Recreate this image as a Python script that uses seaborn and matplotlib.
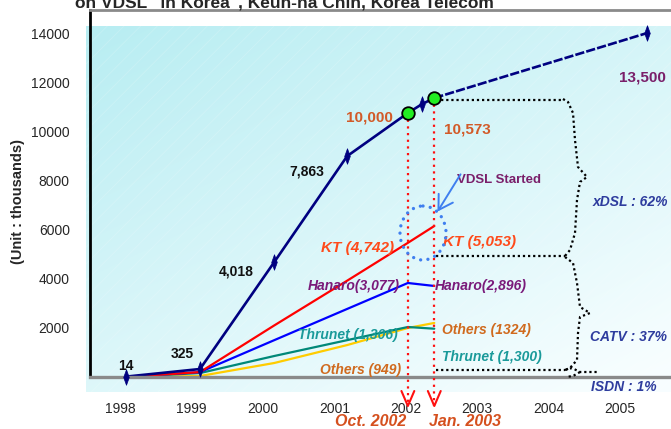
import numpy as np
import pandas as pd
import matplotlib
matplotlib.use("Agg")
import matplotlib.pyplot as plt
from matplotlib.path import Path
from matplotlib.markers import MarkerStyle
from matplotlib.patches import Ellipse, FancyArrowPatch, Rectangle
from matplotlib.transforms import Affine2D
import seaborn as sns

# ---------------- data (values as drawn in the picture) ----------------
periods_total = ["1998", "1999", "2000", "2001", "Oct. 2002", "Nov. 2002", "Jan. 2003", "2005"]
total_subs = [14, 325, 4680, 8990, 10745, 11110, 11355, 14000]
total_labels = ["14", "325", "4,018", "7,863", "10,000", "", "10,573", "13,500"]
milestones = ["Oct. 2002", "Jan. 2003"]

periods_ops = ["1998", "1999", "2000", "2001", "Oct. 2002", "Jan. 2003"]
kt_subs = [0, 200, 2100, 3920, 5460, 6145]
hanaro_subs = [0, 200, 1500, 2770, 3826, 3705]
thrunet_subs = [0, 160, 855, 1500, 2035, 1965]
others_subs = [0, 40, 570, 1300, 1995, 2200]

operators = ["KT", "Hanaro", "Thrunet", "Others"]
op_labels_oct = ["KT (4,742)", "Hanaro(3,077)", "Thrunet (1,306)", "Others (949)"]
op_labels_jan = ["KT (5,053)", "Hanaro(2,896)", "Thrunet (1,300)", "Others (1324)"]
share_labels = ["xDSL : 62%", "CATV : 37%", "ISDN : 1%"]
milestone_labels = ["Oct. 2002", "Jan. 2003"]

year_ticks = [1998, 1999, 2000, 2001, 2002, 2003, 2004, 2005]
y_ticks = [2000, 4000, 6000, 8000, 10000, 12000, 14000]

title = 'on VDSL" in Korea", Keun-ha Chin, Korea Telecom'
y_title = "(Unit : thousands)"

# ---------------- layout ----------------
period_pos = {"1998": 1998.08, "1999": 1999.12, "2000": 2000.16, "2001": 2001.18,
              "Oct. 2002": 2002.03, "Nov. 2002": 2002.23, "Jan. 2003": 2002.40,
              "2005": 2005.38}

NAVY = "#000080"
op_colors = {"KT": "#FF0000", "Hanaro": "#0000FF", "Thrunet": "#008878", "Others": "#FFCC00"}
op_text_colors = {"KT": "#FF4A1A", "Hanaro": "#7A1A7A", "Thrunet": "#1A9A9A", "Others": "#D06A1E"}

sns.set_style("white")
plt.rcParams["font.family"] = ["Liberation Sans", "DejaVu Sans"]
plt.rcParams["hatch.linewidth"] = 0.6

W, H = 671, 429
fig = plt.figure(figsize=(W / 100, H / 100), dpi=100)
PX = Affine2D().scale(1 / W, -1 / H).translate(0, 1) + fig.transFigure

# background gradient panel
bg = fig.add_axes([86 / W, 1 - 392 / H, (W - 86) / W, (392 - 26) / H])
bg.axis("off")
u = np.linspace(0, 1, 300)[None, :]
v = np.linspace(0, 1, 200)[:, None]
t = np.clip(0.45 * u + 0.6 * v, 0, 1)
c0 = np.array([0.72, 0.93, 0.95])
c1 = np.array([0.97, 0.995, 1.0])
img = c0 + (c1 - c0) * t[..., None]
bg.imshow(img, aspect="auto", extent=[0, 1, 0, 1])
bg.set_xlim(0, 1)
bg.set_ylim(0, 1)
bg.add_patch(Rectangle((0, 0), 1, 1, transform=bg.transAxes, fill=False,
                       hatch="//", edgecolor=(1, 1, 1, 0.18), lw=0))

# main axes
ax = fig.add_axes([90 / W, 1 - 377 / H, (W - 90) / W, (377 - 10) / H])
ax.set_facecolor("none")

ops_df = pd.DataFrame({
    "period": periods_ops * 4,
    "operator": np.repeat(operators, len(periods_ops)),
    "subs": kt_subs + hanaro_subs + thrunet_subs + others_subs,
})
ops_df["pos"] = ops_df["period"].map(period_pos)

tot_df = pd.DataFrame({"period": periods_total, "subs": total_subs, "label": total_labels})
tot_df["pos"] = tot_df["period"].map(period_pos)

sns.lineplot(data=ops_df, x="pos", y="subs", hue="operator", palette=op_colors,
             hue_order=["Others", "Thrunet", "Hanaro", "KT"],
             lw=1.6, legend=False, ax=ax, sort=False, estimator=None)

# total line (solid until Jan 2003, finely dashed forecast to 2005)
jan_i = periods_total.index("Jan. 2003")
sns.lineplot(data=tot_df.iloc[:jan_i + 1], x="pos", y="subs", color=NAVY, lw=1.9,
             ax=ax, sort=False, estimator=None)
sns.lineplot(data=tot_df.iloc[jan_i:], x="pos", y="subs", color=NAVY, lw=1.9,
             ax=ax, sort=False, estimator=None, linestyle=(0, (3.5, 0.8)))

# red dotted milestone lines with open V arrows
for m in milestones:
    r = tot_df[tot_df.period == m].iloc[0]
    ax.plot([r.pos, r.pos], [r.subs, -1180], color="#FF1010", lw=1.6,
            ls=(0, (1, 2)), clip_on=False, zorder=3)
    ax.plot([r.pos - 0.09, r.pos, r.pos + 0.09], [-570, -1180, -570],
            color="#FF1010", lw=1.5, clip_on=False, zorder=3)

diamond = MarkerStyle(Path([(0, 1), (0.36, 0), (0, -1), (-0.36, 0), (0, 1)],
                           [Path.MOVETO, Path.LINETO, Path.LINETO, Path.LINETO, Path.CLOSEPOLY]))
dia_df = tot_df[~tot_df.period.isin(milestones)]
sns.scatterplot(data=dia_df, x="pos", y="subs", marker=diamond, s=125, color=NAVY,
                edgecolor=NAVY, linewidth=0.5, ax=ax, zorder=6, legend=False)
mil_df = tot_df[tot_df.period.isin(milestones)]
sns.scatterplot(data=mil_df, x="pos", y="subs", s=82, color="#22EE22",
                edgecolor="black", linewidth=1.3, ax=ax, zorder=7, legend=False)

for art in ax.lines + ax.collections:
    art.set_clip_on(False)

ax.set_xlim(1998 + (90 - 120) / 71.43, 1998 + (671 - 120) / 71.43)
ax.set_ylim(0, 367 / 24.57 * 1000)
ax.set_xticks(year_ticks)
ax.set_xticklabels([str(y) for y in year_ticks])
ax.set_yticks(y_ticks)
ax.set_yticklabels([str(y) for y in y_ticks])
ax.tick_params(axis="x", length=0, pad=18, labelsize=10)
ax.tick_params(axis="y", length=0, pad=14.5, labelsize=10)
ax.set_xlabel("")
ax.set_ylabel("")
for s in ["left", "bottom", "top", "right"]:
    ax.spines[s].set_visible(True)
ax.spines["right"].set_visible(False)
ax.spines["left"].set_color("black")
ax.spines["left"].set_linewidth(2)
ax.spines["bottom"].set_color("#8A8A8A")
ax.spines["bottom"].set_linewidth(2.4)
ax.spines["top"].set_color("#8A8A8A")
ax.spines["top"].set_linewidth(2)

# ---------------- text ----------------
fig.text(75 / W, 1 - 7.5 / H, title, fontsize=12.5, weight="bold", ha="left", va="baseline")
fig.text(18 / W, 1 - 202 / H, y_title, rotation=90, fontsize=10.5, weight="bold",
         ha="center", va="center")

label_px = {"1998": (126, 366, 10, "#111111"), "1999": (182, 354, 10, "#111111"),
            "2000": (236, 271, 10, "#111111"), "2001": (307, 171, 10, "#111111"),
            "Oct. 2002": (369, 118, 11, "#D25A28"), "Jan. 2003": (467, 130, 11, "#D25A28"),
            "2005": (642, 77, 11, "#7A1F6A")}
for _, r in tot_df.iterrows():
    if r.label and r.period in label_px:
        x, y, fs, c = label_px[r.period]
        ax.text(x, y, r.label, transform=PX, fontsize=fs, weight="bold", color=c,
                ha="center", va="center")

oct_px = {"KT": (394, 248), "Hanaro": (400, 286), "Thrunet": (398, 335), "Others": (401, 370)}
jan_px = {"KT": (443, 242), "Hanaro": (435, 286), "Thrunet": (442, 357), "Others": (442, 330)}
for op, lo, lj in zip(operators, op_labels_oct, op_labels_jan):
    fs = 11 if op == "KT" else 10
    ax.text(*oct_px[op], lo, transform=PX, fontsize=fs, weight="bold", style="italic",
            color=op_text_colors[op], ha="right", va="center")
    ax.text(*jan_px[op], lj, transform=PX, fontsize=fs, weight="bold", style="italic",
            color=op_text_colors[op], ha="left", va="center")

ax.text(499, 180, "VDSL Started", transform=PX, fontsize=9.5, weight="bold",
        color="#7A1F6A", ha="center", va="center")
arr = FancyArrowPatch((462, 172), (436, 214), transform=PX,
                      arrowstyle="->,head_length=0.5,head_width=0.3", mutation_scale=20,
                      color="#3F7FEF", lw=1.4)
fig.patches.append(arr)
arr.set_figure(fig)
circ = Ellipse((423, 233), 46, 54, transform=PX, fill=False, ec="#3F7FEF", lw=2.4,
               ls=(0, (0.01, 2.2)))
circ.set_capstyle("round")
fig.patches.append(circ)
circ.set_figure(fig)

for lab, (x, y) in zip(share_labels, [(630, 202), (629, 337), (624, 387)]):
    ax.text(x, y, lab, transform=PX, fontsize=10, weight="bold", style="italic",
            color="#2E3C9E", ha="center", va="center")
for lab, (x, y) in zip(milestone_labels, [(371, 422), (465, 422)]):
    ax.text(x, y, lab, transform=PX, fontsize=11.5, weight="bold", style="italic",
            color="#D5501E", ha="center", va="center")

# dotted bracket guides
dot = dict(color="black", lw=1.6, ls=(0, (1, 1.3)), transform=PX, clip_on=False, zorder=4)
for yy, xe in [(100, 563), (256, 565), (370, 565)]:
    ax.plot([436, xe], [yy, yy], **dot)
brace1 = [(563, 99), (568, 102), (573, 113), (575, 140), (578, 167), (587, 177),
          (580, 182), (577, 200), (575, 233), (570, 250), (565, 256)]
brace2 = [(565, 257), (573, 263), (577, 283), (580, 307), (590, 313), (580, 317),
          (578, 333), (577, 360), (570, 368), (565, 370)]
brace3 = [(565, 370), (572, 368), (580, 372), (598, 372)]
brace4 = [(580, 372), (573, 376), (566, 377)]
for b in [brace1, brace2, brace3, brace4]:
    xs, ys = zip(*b)
    ax.plot(xs, ys, **dot)

fig.savefig("out.png", dpi=100)
